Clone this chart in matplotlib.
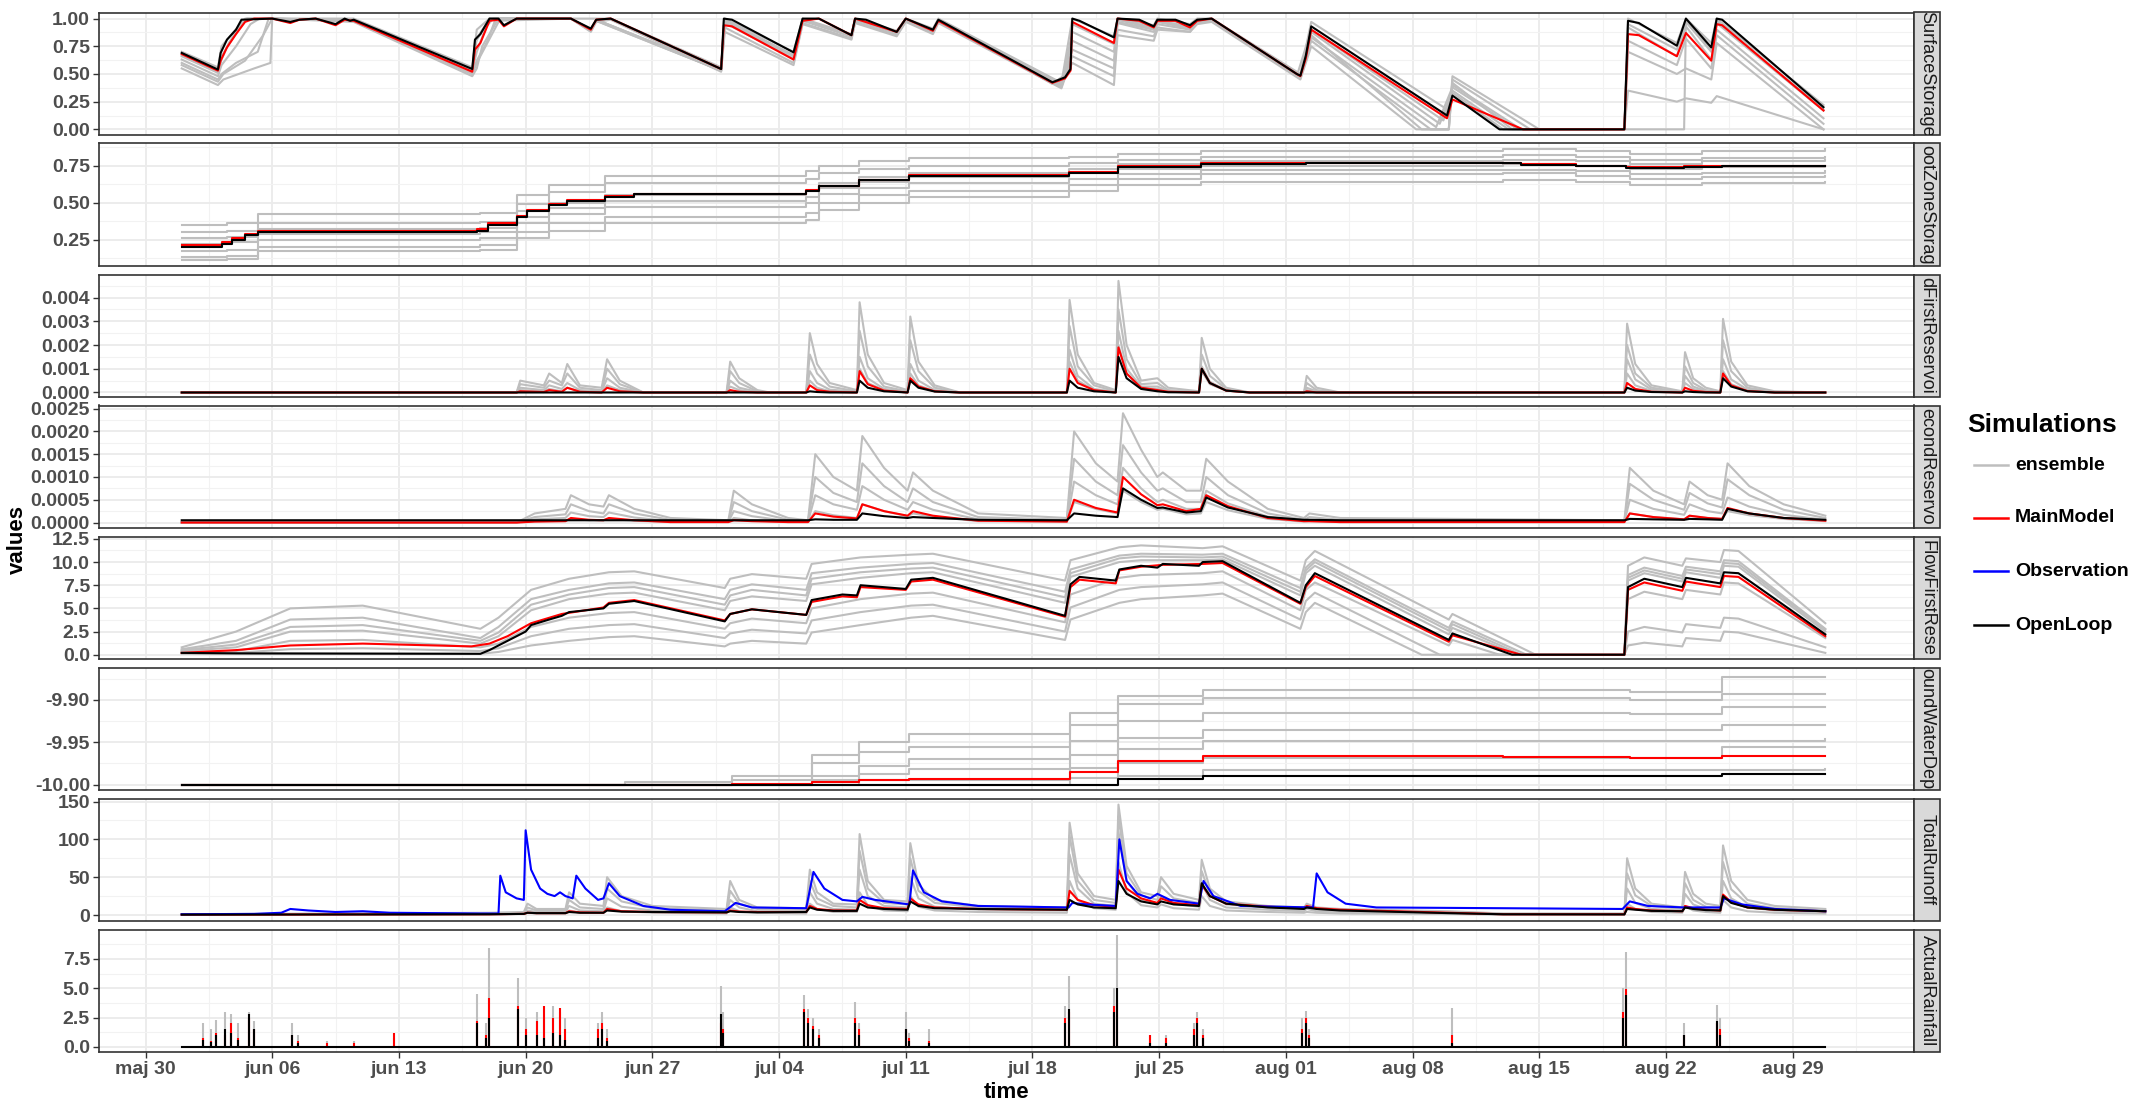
import numpy as np
import matplotlib
matplotlib.use("Agg")
import matplotlib.pyplot as plt
from matplotlib.patches import Rectangle
from matplotlib.lines import Line2D

# Arial-like font, bold text everywhere except the facet strips
plt.rcParams['font.family'] = ['Liberation Sans', 'DejaVu Sans']

W, H, DPI = 2132, 1104, 100

# ---------------- axes / labels ----------------
# time is counted in days after 30 May
week_days = [0, 7, 14, 21, 28, 35, 42, 49, 56, 63, 70, 77, 84, 91]
week_labels = ['maj 30', 'jun 06', 'jun 13', 'jun 20', 'jun 27', 'jul 04', 'jul 11',
               'jul 18', 'jul 25', 'aug 01', 'aug 08', 'aug 15', 'aug 22', 'aug 29']
x_range = (-2.57, 97.7)

# strip labels as far as they are visible in the (clipped) facet strips
panel_names = ['SurfaceStorage', 'ootZoneStorag', 'dFirstReservoi', 'econdReservo',
               'FlowFirstRese', 'oundWaterDep', 'TotalRunoff', 'ActualRainfall']
sim_names = ['ensemble', 'MainModel', 'Observation', 'OpenLoop']
sim_colors = ['#BEBEBE', '#FF0000', '#0000FF', '#000000']

panel_ylim = [(-0.051, 1.055), (0.071, 0.899), (-0.00019, 0.00497), (-0.00012, 0.00257),
              (-0.46, 12.76), (-10.0064, -9.8616), (-7.9, 154.0), (-0.43, 10.0)]
panel_yticks = [[0, 0.25, 0.5, 0.75, 1.0], [0.25, 0.5, 0.75], [0, 0.001, 0.002, 0.003, 0.004],
                [0, 0.0005, 0.001, 0.0015, 0.002, 0.0025], [0, 2.5, 5, 7.5, 10, 12.5],
                [-10.0, -9.95, -9.9], [0, 50, 100, 150], [0, 2.5, 5, 7.5]]
panel_ylabels = [['0.00', '0.25', '0.50', '0.75', '1.00'], ['0.25', '0.50', '0.75'],
                 ['0.000', '0.001', '0.002', '0.003', '0.004'],
                 ['0.0000', '0.0005', '0.0010', '0.0015', '0.0020', '0.0025'],
                 ['0.0', '2.5', '5.0', '7.5', '10.0', '12.5'], ['-10.00', '-9.95', '-9.90'],
                 ['0', '50', '100', '150'], ['0.0', '2.5', '5.0', '7.5']]

# ---------------- SurfaceStorage (day, value) ----------------
surf_openloop = [
    (2.0, 0.69), (4.0, 0.54), (4.15, 0.69), (4.5, 0.81), (5.0, 0.90), (5.3, 0.99), (7.0, 1.0),
    (8.0, 0.97), (8.5, 0.99), (9.4, 1.0), (10.5, 0.95), (11.0, 1.0), (11.3, 0.98), (11.5, 0.99),
    (18.05, 0.545), (18.2, 0.81), (18.5, 0.86), (19.0, 1.0), (19.5, 1.0), (19.8, 0.94), (20.5, 1.0),
    (23.5, 1.0), (24.6, 0.91), (24.9, 0.99), (25.7, 1.0), (31.8, 0.545), (31.95, 1.0), (32.4, 0.99),
    (35.8, 0.695), (36.3, 1.0), (37.2, 1.0), (39.0, 0.85), (39.2, 1.0), (39.8, 0.99), (41.5, 0.88),
    (42.0, 1.0), (43.5, 0.90), (43.8, 0.99), (50.1, 0.425), (50.8, 0.47), (51.1, 0.545), (51.2, 1.0),
    (51.6, 0.98), (53.5, 0.83), (53.7, 1.0), (54.9, 0.99), (55.7, 0.93), (55.9, 0.99), (56.9, 0.99),
    (57.7, 0.94), (58.1, 0.99), (58.9, 1.0), (63.6, 0.50), (63.8, 0.485), (64.1, 0.665), (64.4, 0.93),
    (71.9, 0.125), (72.2, 0.305), (74.8, 0.0), (81.7, 0.0), (81.9, 0.98), (82.5, 0.96), (84.6, 0.755),
    (85.1, 1.0), (86.5, 0.74), (86.8, 1.0), (87.1, 0.99), (92.7, 0.2)]
surf_main = [
    (2.0, 0.68), (4.0, 0.53), (4.15, 0.62), (4.5, 0.74), (5.0, 0.86), (5.5, 0.97), (6.0, 1.0),
    (7.0, 1.0), (8.0, 0.96), (8.5, 0.99), (9.4, 1.0), (10.5, 0.94), (11.0, 0.99), (11.5, 0.98),
    (18.05, 0.52), (18.2, 0.72), (18.5, 0.78), (19.0, 0.98), (19.5, 0.99), (19.8, 0.93), (20.5, 1.0),
    (23.5, 1.0), (24.6, 0.90), (24.9, 0.99), (25.7, 1.0), (31.8, 0.545), (31.95, 0.94), (32.4, 0.93),
    (35.8, 0.63), (36.3, 0.98), (37.2, 1.0), (39.0, 0.85), (39.2, 1.0), (41.5, 0.88), (42.0, 1.0),
    (43.5, 0.89), (43.8, 0.98), (50.1, 0.42), (50.8, 0.46), (51.1, 0.53), (51.2, 0.97), (53.5, 0.78),
    (53.7, 1.0), (54.9, 0.98), (55.7, 0.92), (55.9, 0.98), (56.9, 0.98), (57.7, 0.92), (58.1, 0.98),
    (58.9, 1.0), (63.6, 0.50), (63.8, 0.48), (64.1, 0.64), (64.4, 0.90), (71.9, 0.10), (72.2, 0.27),
    (76.1, 0.0), (81.7, 0.0), (81.9, 0.86), (82.5, 0.85), (84.6, 0.66), (85.1, 0.87), (86.5, 0.62),
    (86.8, 0.95), (87.1, 0.94), (92.7, 0.17)]
surf_ens = [
    [(2.0, 0.70), (4.0, 0.56), (4.2, 0.75), (5.5, 1.0), (7.0, 1.0), (11.5, 1.0), (18.05, 0.56),
     (18.3, 0.9), (19.0, 1.0), (23.5, 1.0), (25.7, 1.0), (31.8, 0.56), (32.0, 1.0), (35.8, 0.70),
     (36.3, 1.0), (39.0, 0.86), (39.2, 1.0), (41.5, 0.89), (42.0, 1.0), (43.5, 0.91), (43.8, 1.0),
     (50.6, 0.42), (51.2, 1.0), (53.5, 0.84), (53.7, 1.0), (55.7, 0.94), (55.9, 1.0), (57.7, 0.95),
     (58.1, 1.0), (58.9, 1.0), (63.8, 0.50), (64.4, 0.97), (72.0, 0.17), (72.2, 0.42), (75.5, 0.0),
     (81.7, 0.0), (81.9, 1.0), (84.6, 0.78), (85.1, 1.0), (86.5, 0.78), (86.8, 1.0), (92.7, 0.22)],
    [(2.0, 0.60), (4.0, 0.45), (4.2, 0.50), (5.0, 0.60), (6.2, 0.70), (6.8, 1.0), (11.5, 0.98),
     (18.05, 0.50), (18.3, 0.62), (18.9, 0.80), (19.3, 0.98), (23.5, 1.0), (24.6, 0.88), (24.9, 0.97),
     (25.7, 0.99), (31.8, 0.52), (32.0, 0.92), (35.8, 0.60), (36.3, 0.96), (39.0, 0.82), (39.2, 0.97),
     (41.5, 0.85), (42.0, 0.98), (43.5, 0.87), (43.8, 0.97), (50.6, 0.38), (51.2, 0.72), (53.5, 0.55),
     (53.7, 0.96), (55.7, 0.88), (55.9, 0.95), (57.7, 0.90), (58.1, 0.96), (58.9, 0.99), (63.8, 0.46),
     (64.4, 0.80), (71.0, 0.0), (72.0, 0.0), (72.2, 0.45), (76.5, 0.0), (81.7, 0.0), (81.9, 0.70),
     (84.6, 0.50), (85.1, 0.55), (86.5, 0.45), (86.8, 0.78), (92.7, 0.0)],
    [(2.0, 0.55), (4.0, 0.40), (4.3, 0.45), (6.0, 0.55), (6.9, 0.60), (7.0, 1.0), (11.5, 0.97),
     (18.05, 0.48), (18.3, 0.55), (18.6, 0.75), (19.5, 1.0), (23.5, 1.0), (24.6, 0.89), (24.9, 0.98),
     (31.8, 0.53), (32.0, 0.96), (35.8, 0.64), (36.3, 0.98), (39.0, 0.84), (39.2, 0.99), (41.5, 0.87),
     (42.0, 0.99), (43.5, 0.89), (43.8, 0.99), (50.6, 0.40), (51.2, 0.60), (53.5, 0.40), (53.7, 0.85),
     (55.7, 0.80), (55.9, 0.90), (57.7, 0.88), (58.1, 0.97), (58.9, 0.98), (63.8, 0.47), (64.4, 0.85),
     (70.5, 0.0), (72.0, 0.0), (72.2, 0.40), (76.0, 0.0), (81.7, 0.0), (81.9, 0.35), (84.6, 0.25),
     (85.1, 0.28), (86.5, 0.24), (86.8, 0.30), (92.7, 0.0)],
    [(2.0, 0.63), (4.0, 0.48), (4.2, 0.58), (5.0, 0.75), (5.8, 0.95), (6.3, 1.0), (11.5, 0.99),
     (18.05, 0.53), (18.3, 0.70), (18.8, 0.92), (19.2, 1.0), (23.5, 1.0), (24.6, 0.90), (24.9, 0.99),
     (31.8, 0.54), (32.0, 0.97), (35.8, 0.66), (36.3, 0.99), (39.0, 0.85), (39.2, 0.99), (41.5, 0.87),
     (42.0, 0.99), (43.5, 0.89), (43.8, 0.98), (50.6, 0.40), (51.2, 0.80), (53.5, 0.62), (53.7, 0.97),
     (55.7, 0.90), (55.9, 0.97), (57.7, 0.91), (58.1, 0.97), (58.9, 0.99), (63.8, 0.48), (64.4, 0.83),
     (71.3, 0.02), (72.2, 0.38), (75.8, 0.0), (85.0, 0.0), (85.1, 0.98), (86.5, 0.72), (86.8, 0.96),
     (92.7, 0.17)],
    [(2.0, 0.66), (4.0, 0.51), (4.2, 0.66), (5.3, 0.95), (5.6, 1.0), (11.5, 0.99), (18.05, 0.53),
     (18.2, 0.78), (19.0, 0.99), (23.5, 1.0), (24.6, 0.90), (24.9, 0.99), (31.8, 0.54), (32.0, 0.99),
     (35.8, 0.67), (36.3, 0.99), (39.0, 0.84), (39.2, 0.99), (41.5, 0.87), (42.0, 0.99), (43.5, 0.88),
     (43.8, 0.98), (50.6, 0.40), (51.2, 0.88), (53.5, 0.70), (53.7, 0.99), (55.7, 0.91), (55.9, 0.98),
     (57.7, 0.92), (58.1, 0.98), (58.9, 0.99), (63.8, 0.49), (64.4, 0.88), (71.5, 0.05), (72.2, 0.35),
     (75.3, 0.0), (81.7, 0.0), (81.9, 0.92), (84.6, 0.66), (85.1, 0.93), (86.5, 0.63), (86.8, 0.90),
     (92.7, 0.10)],
    [(2.0, 0.67), (4.0, 0.52), (4.2, 0.63), (4.6, 0.78), (5.2, 0.93), (5.6, 1.0), (11.5, 0.99),
     (18.05, 0.52), (18.3, 0.82), (19.0, 1.0), (23.5, 1.0), (24.6, 0.90), (24.9, 0.99), (31.8, 0.53),
     (31.95, 0.98), (35.8, 0.67), (36.3, 0.99), (39.0, 0.84), (39.2, 0.99), (41.5, 0.87), (42.0, 0.99),
     (43.5, 0.89), (43.8, 0.99), (50.1, 0.41), (51.1, 0.53), (51.2, 0.95), (53.5, 0.77), (53.7, 0.99),
     (55.7, 0.92), (55.9, 0.98), (57.7, 0.93), (58.1, 0.98), (58.9, 0.99), (63.6, 0.48), (64.4, 0.90),
     (71.7, 0.08), (72.2, 0.33), (75.0, 0.0), (81.7, 0.0), (81.9, 0.95), (84.6, 0.72), (85.1, 0.97),
     (86.5, 0.70), (86.8, 0.98), (92.7, 0.18)],
    [(2.0, 0.58), (4.0, 0.43), (4.3, 0.50), (5.5, 0.62), (6.5, 0.85), (7.0, 1.0), (11.5, 0.98),
     (18.05, 0.50), (18.3, 0.60), (19.6, 1.0), (23.5, 1.0), (24.6, 0.89), (24.9, 0.98), (31.8, 0.53),
     (32.0, 0.88), (35.8, 0.58), (36.3, 0.95), (39.0, 0.81), (39.2, 0.96), (41.5, 0.84), (42.0, 0.97),
     (43.5, 0.86), (43.8, 0.96), (50.6, 0.37), (51.2, 0.66), (53.5, 0.48), (53.7, 0.90), (55.7, 0.84),
     (55.9, 0.92), (57.7, 0.88), (58.1, 0.95), (58.9, 0.97), (63.8, 0.45), (64.4, 0.75), (70.2, 0.0),
     (72.0, 0.0), (72.2, 0.48), (77.0, 0.0), (81.7, 0.0), (81.9, 0.80), (84.6, 0.58), (85.1, 0.82),
     (86.5, 0.55), (86.8, 0.85), (92.7, 0.05)],
]

# ---------------- RootZoneStorage (steps) ----------------
root_openloop = [
    (2.0, 0.20), (4.2, 0.22), (4.8, 0.25), (5.5, 0.28), (6.2, 0.30), (18.3, 0.31), (18.9, 0.35),
    (20.5, 0.40), (21.1, 0.44), (22.3, 0.48), (23.3, 0.51), (25.4, 0.54), (27.0, 0.555), (36.5, 0.58),
    (37.2, 0.61), (39.4, 0.65), (42.2, 0.68), (51.0, 0.70), (53.7, 0.74), (58.3, 0.76), (64.1, 0.765),
    (76.0, 0.755), (79.0, 0.745), (81.8, 0.735), (85.0, 0.74), (87.1, 0.745), (92.8, 0.745)]
root_main = [
    (2.0, 0.215), (4.2, 0.235), (4.8, 0.26), (5.5, 0.29), (6.2, 0.31), (18.3, 0.32), (18.9, 0.36),
    (20.5, 0.41), (21.1, 0.45), (22.3, 0.49), (23.3, 0.52), (25.4, 0.545), (27.0, 0.56), (36.5, 0.585),
    (37.2, 0.615), (39.4, 0.655), (42.2, 0.685), (51.0, 0.705), (53.7, 0.745), (58.3, 0.765),
    (64.1, 0.77), (76.0, 0.76), (79.0, 0.75), (81.8, 0.74), (85.0, 0.745), (87.1, 0.75), (92.8, 0.75)]
root_ens_t = [2.0, 4.5, 6.2, 18.5, 20.5, 22.3, 25.4, 36.5, 37.2, 39.4, 42.2, 51.0, 53.7, 58.3,
              75.0, 79.0, 82.0, 86.0, 92.8]
root_ens = [
    [0.35, 0.36, 0.42, 0.43, 0.55, 0.62, 0.68, 0.71, 0.75, 0.78, 0.80, 0.81, 0.83, 0.85, 0.86, 0.85, 0.83, 0.85, 0.86],
    [0.30, 0.31, 0.36, 0.37, 0.49, 0.57, 0.63, 0.66, 0.70, 0.73, 0.75, 0.77, 0.79, 0.81, 0.82, 0.81, 0.79, 0.80, 0.81],
    [0.26, 0.27, 0.32, 0.33, 0.44, 0.50, 0.55, 0.58, 0.63, 0.67, 0.70, 0.73, 0.76, 0.78, 0.79, 0.78, 0.76, 0.78, 0.785],
    [0.22, 0.23, 0.29, 0.30, 0.40, 0.46, 0.51, 0.54, 0.60, 0.64, 0.67, 0.70, 0.73, 0.75, 0.76, 0.75, 0.73, 0.74, 0.75],
    [0.17, 0.18, 0.25, 0.26, 0.36, 0.42, 0.47, 0.50, 0.56, 0.60, 0.63, 0.66, 0.69, 0.72, 0.72, 0.71, 0.69, 0.70, 0.71],
    [0.13, 0.14, 0.20, 0.21, 0.30, 0.36, 0.40, 0.43, 0.50, 0.55, 0.58, 0.62, 0.66, 0.69, 0.70, 0.68, 0.66, 0.67, 0.68],
    [0.11, 0.12, 0.17, 0.18, 0.26, 0.31, 0.36, 0.38, 0.45, 0.50, 0.54, 0.58, 0.62, 0.64, 0.65, 0.64, 0.62, 0.63, 0.64],
]

# ---------------- first reservoir (values in 1e-3) ----------------
res1_t = [2.0, 20.5, 20.7, 22.0, 22.3, 23.0, 23.3, 24.0, 25.2, 25.5, 26.2, 27.5,
          32.1, 32.3, 32.8, 33.8, 34.5,
          36.5, 36.7, 37.1, 37.8,
          39.3, 39.45, 39.9, 40.8,
          42.1, 42.25, 42.7, 43.6, 45.0,
          50.9, 51.05, 51.5, 52.4,
          53.6, 53.75, 54.2, 55.0,
          55.9, 56.5,
          58.2, 58.35, 58.8, 59.7, 61.0,
          64.0, 64.15, 64.7, 66.0,
          81.7, 81.85, 82.3, 83.2,
          84.9, 85.05, 85.5, 86.2,
          87.0, 87.15, 87.6, 88.5, 90.0, 92.8]
res1_openloop = [0, 0, 0, 0, 0, 0, 0, 0, 0, 0, 0, 0,
                 0, 0, 0, 0, 0,
                 0, 0.05, 0.02, 0,
                 0, 0.5, 0.2, 0.05,
                 0, 0.5, 0.2, 0.04, 0,
                 0, 0.5, 0.2, 0.05,
                 0, 1.5, 0.6, 0.15,
                 0.05, 0.01,
                 0, 1.0, 0.4, 0.08, 0,
                 0, 0, 0, 0,
                 0, 0.2, 0.08, 0.02,
                 0, 0.05, 0.02, 0,
                 0, 0.6, 0.25, 0.05, 0, 0]
res1_main = [0, 0, 0.05, 0.02, 0.1, 0.03, 0.2, 0.03, 0, 0.2, 0.05, 0,
             0, 0.1, 0.03, 0, 0,
             0, 0.3, 0.1, 0.03,
             0, 0.9, 0.35, 0.08,
             0, 0.6, 0.25, 0.05, 0,
             0, 1.0, 0.4, 0.1,
             0, 1.9, 0.8, 0.2,
             0.1, 0.03,
             0, 1.0, 0.4, 0.08, 0,
             0, 0.05, 0, 0,
             0, 0.4, 0.15, 0.03,
             0, 0.2, 0.07, 0.02,
             0, 0.8, 0.3, 0.06, 0, 0]
res1_ens = [
    [0, 0, 0.5, 0.3, 0.8, 0.4, 1.2, 0.3, 0.2, 1.4, 0.5, 0,
     0, 1.3, 0.6, 0.1, 0,
     0, 2.5, 1.2, 0.4,
     0.1, 3.8, 1.6, 0.4,
     0.1, 3.2, 1.3, 0.3, 0,
     0, 3.9, 1.6, 0.4,
     0.1, 4.7, 2.0, 0.5,
     0.6, 0.2,
     0.05, 2.3, 1.0, 0.2, 0,
     0, 0.7, 0.2, 0,
     0, 2.9, 1.2, 0.3,
     0.05, 1.7, 0.6, 0.2,
     0.05, 3.1, 1.3, 0.3, 0.05, 0],
    [0, 0, 0.35, 0.2, 0.5, 0.3, 0.8, 0.2, 0.1, 1.0, 0.35, 0,
     0, 0.9, 0.4, 0.05, 0,
     0, 1.6, 0.8, 0.25,
     0.05, 2.6, 1.1, 0.25,
     0.05, 2.2, 0.9, 0.2, 0,
     0, 2.8, 1.1, 0.3,
     0.05, 3.5, 1.4, 0.35,
     0.4, 0.1,
     0.03, 1.6, 0.7, 0.15, 0,
     0, 0.4, 0.1, 0,
     0, 2.0, 0.8, 0.2,
     0.03, 1.1, 0.4, 0.1,
     0.03, 2.2, 0.9, 0.2, 0.03, 0],
    [0, 0, 0.2, 0.1, 0.3, 0.15, 0.4, 0.1, 0.05, 0.6, 0.2, 0,
     0, 0.5, 0.2, 0.03, 0,
     0, 0.9, 0.4, 0.12,
     0.03, 1.5, 0.6, 0.15,
     0.03, 1.2, 0.5, 0.1, 0,
     0, 1.8, 0.7, 0.15,
     0.03, 2.6, 1.0, 0.25,
     0.25, 0.06,
     0.02, 1.1, 0.45, 0.1, 0,
     0, 0.2, 0.05, 0,
     0, 1.4, 0.55, 0.12,
     0.02, 0.7, 0.25, 0.06,
     0.02, 1.4, 0.55, 0.12, 0.02, 0],
    [0, 0, 0.1, 0.05, 0.15, 0.05, 0.2, 0.05, 0, 0.3, 0.1, 0,
     0, 0.25, 0.1, 0, 0,
     0, 0.5, 0.2, 0.05,
     0, 1.0, 0.4, 0.1,
     0, 0.8, 0.3, 0.05, 0,
     0, 1.3, 0.5, 0.1,
     0, 2.0, 0.8, 0.2,
     0.15, 0.03,
     0, 0.9, 0.35, 0.08, 0,
     0, 0.1, 0.02, 0,
     0, 0.8, 0.3, 0.07,
     0, 0.4, 0.15, 0.03,
     0, 0.9, 0.35, 0.08, 0, 0],
]

# ---------------- second reservoir (values in 1e-3) ----------------
res2_t = [2.0, 20.5, 21.5, 23.2, 23.5, 24.5, 25.3, 25.6, 27.0, 29.0,
          32.2, 32.5, 33.5, 35.5,
          36.6, 37.0, 38.0,
          39.3, 39.6, 40.8,
          42.1, 42.4, 43.5, 46.0,
          50.9, 51.3, 52.5,
          53.7, 54.0, 55.0,
          55.9, 56.2, 57.5,
          58.3, 58.6, 59.8, 62.0,
          64.0, 64.3, 66.0,
          81.7, 82.0, 83.3,
          85.0, 85.3, 86.3,
          87.1, 87.4, 88.6, 90.5, 92.8]
res2_openloop = [0.05, 0.05, 0.05, 0.05, 0.05, 0.05, 0.05, 0.05, 0.05, 0.05,
                 0.05, 0.05, 0.05, 0.05,
                 0.05, 0.07, 0.06,
                 0.06, 0.2, 0.14,
                 0.1, 0.12, 0.1, 0.06,
                 0.05, 0.2, 0.15,
                 0.12, 0.75, 0.5,
                 0.32, 0.33, 0.22,
                 0.25, 0.55, 0.33, 0.12,
                 0.06, 0.06, 0.05,
                 0.05, 0.08, 0.07,
                 0.06, 0.08, 0.07,
                 0.06, 0.3, 0.2, 0.1, 0.06]
res2_main = [0, 0, 0.02, 0.03, 0.1, 0.06, 0.05, 0.1, 0.05, 0.01,
             0.01, 0.05, 0.03, 0.01,
             0.01, 0.2, 0.13,
             0.09, 0.4, 0.25,
             0.15, 0.25, 0.15, 0.04,
             0.02, 0.5, 0.32,
             0.22, 1.0, 0.62,
             0.38, 0.4, 0.25,
             0.3, 0.6, 0.36, 0.1,
             0.03, 0.03, 0.01,
             0.01, 0.2, 0.12,
             0.07, 0.15, 0.1,
             0.08, 0.32, 0.2, 0.1, 0.04]
res2_ens = [
    [0, 0, 0.2, 0.3, 0.6, 0.4, 0.35, 0.6, 0.3, 0.1,
     0.05, 0.7, 0.4, 0.1,
     0.05, 1.5, 1.0,
     0.7, 1.9, 1.2,
     0.7, 1.1, 0.7, 0.2,
     0.1, 2.0, 1.3,
     0.9, 2.4, 1.6,
     1.0, 1.1, 0.7,
     0.7, 1.4, 0.9, 0.3,
     0.1, 0.2, 0.1,
     0.05, 1.2, 0.7,
     0.4, 0.9, 0.6,
     0.5, 1.3, 0.8, 0.4, 0.15],
    [0, 0, 0.12, 0.18, 0.4, 0.25, 0.2, 0.4, 0.2, 0.06,
     0.03, 0.45, 0.25, 0.06,
     0.03, 1.0, 0.65,
     0.45, 1.3, 0.8,
     0.45, 0.75, 0.45, 0.12,
     0.06, 1.4, 0.9,
     0.6, 1.7, 1.1,
     0.7, 0.75, 0.45,
     0.45, 1.0, 0.6, 0.2,
     0.06, 0.12, 0.06,
     0.03, 0.85, 0.5,
     0.28, 0.65, 0.42,
     0.33, 0.95, 0.6, 0.28, 0.1],
    [0, 0, 0.07, 0.1, 0.22, 0.14, 0.12, 0.22, 0.11, 0.03,
     0.02, 0.25, 0.14, 0.03,
     0.02, 0.6, 0.4,
     0.28, 0.8, 0.5,
     0.28, 0.45, 0.28, 0.07,
     0.03, 0.9, 0.6,
     0.4, 1.2, 0.75,
     0.45, 0.5, 0.3,
     0.3, 0.7, 0.42, 0.13,
     0.04, 0.06, 0.03,
     0.02, 0.5, 0.3,
     0.17, 0.4, 0.25,
     0.2, 0.55, 0.35, 0.17, 0.06],
    [0, 0, 0.03, 0.04, 0.08, 0.05, 0.05, 0.08, 0.04, 0.01,
     0.01, 0.1, 0.05, 0.01,
     0.01, 0.25, 0.16,
     0.1, 0.4, 0.25,
     0.14, 0.2, 0.13, 0.03,
     0.02, 0.45, 0.3,
     0.2, 0.7, 0.45,
     0.28, 0.3, 0.18,
     0.2, 0.45, 0.27, 0.08,
     0.02, 0.03, 0.01,
     0.01, 0.2, 0.12,
     0.07, 0.15, 0.1,
     0.08, 0.25, 0.16, 0.08, 0.03],
]

# ---------------- flow first reservoir ----------------
flow_openloop = [
    (2.0, 0.2), (5.0, 0.15), (18.5, 0.1), (19.0, 0.5), (20.0, 1.5), (21.0, 2.5), (21.3, 3.2),
    (22.3, 3.8), (23.0, 4.2), (23.4, 4.6), (25.3, 5.0), (25.6, 5.5), (27.0, 5.8), (32.0, 3.6),
    (32.3, 4.4), (33.5, 4.9), (36.5, 4.3), (36.8, 5.9), (38.5, 6.5), (39.3, 6.4), (39.5, 7.5),
    (42.0, 7.1), (42.3, 8.1), (43.5, 8.3), (50.8, 4.2), (51.1, 7.6), (51.6, 8.4), (53.6, 8.0),
    (53.8, 9.2), (55.0, 9.6), (55.9, 9.4), (56.2, 9.8), (58.2, 9.6), (58.4, 10.0), (59.5, 10.1),
    (63.8, 5.6), (64.1, 7.5), (64.6, 8.8), (72.0, 1.6), (72.2, 2.3), (75.5, 0.0), (81.7, 0.0),
    (81.9, 7.3), (82.8, 8.2), (84.9, 7.3), (85.1, 8.3), (87.0, 7.7), (87.2, 8.9), (88.0, 8.8),
    (92.8, 2.2)]
flow_main = [
    (2.0, 0.2), (5.0, 0.5), (8.0, 1.0), (12.0, 1.2), (18.0, 0.9), (19.0, 1.2), (20.0, 2.0),
    (21.3, 3.4), (23.0, 4.4), (25.3, 5.1), (25.6, 5.6), (27.0, 5.9), (32.0, 3.7), (32.3, 4.4),
    (33.5, 4.9), (36.5, 4.3), (36.8, 5.7), (38.5, 6.3), (39.3, 6.2), (39.5, 7.3), (42.0, 7.0),
    (42.3, 7.9), (43.5, 8.1), (50.8, 4.1), (51.1, 7.3), (51.6, 8.1), (53.6, 7.7), (53.8, 9.1),
    (55.0, 9.5), (56.2, 9.7), (58.4, 9.8), (59.5, 9.9), (63.8, 5.5), (64.1, 7.3), (64.6, 8.5),
    (72.0, 1.4), (72.2, 2.1), (76.0, 0.0), (81.7, 0.0), (81.9, 7.0), (82.8, 7.8), (84.9, 6.9),
    (85.1, 7.9), (87.0, 7.3), (87.2, 8.5), (88.0, 8.4), (92.8, 2.0)]
flow_ens = [
    [(2.0, 0.8), (5.0, 2.5), (8.0, 5.0), (12.0, 5.3), (18.5, 2.8), (19.5, 4.0), (21.3, 7.0),
     (23.4, 8.2), (25.6, 8.9), (27.0, 9.0), (32.0, 7.2), (32.3, 8.2), (33.5, 8.7), (36.5, 8.2),
     (36.8, 9.8), (39.5, 10.5), (42.3, 10.8), (43.5, 10.9), (50.8, 8.0), (51.1, 10.2), (53.8, 11.6),
     (55.0, 11.8), (58.4, 11.5), (59.5, 11.7), (63.8, 8.0), (64.1, 10.2), (64.6, 11.2), (72.0, 3.8),
     (72.2, 4.4), (76.8, 0.0), (81.7, 0.0), (81.9, 9.6), (82.8, 10.5), (84.9, 9.6), (85.1, 10.4),
     (87.0, 10.0), (87.2, 11.3), (88.0, 11.2), (92.8, 3.4)],
    [(2.0, 0.6), (5.0, 1.5), (8.0, 3.8), (12.0, 4.0), (18.5, 1.8), (19.5, 3.0), (21.3, 6.0),
     (23.4, 7.0), (25.6, 7.7), (27.0, 7.8), (32.0, 6.0), (32.3, 7.0), (33.5, 7.6), (36.5, 7.0),
     (36.8, 8.8), (39.5, 9.4), (42.3, 9.8), (43.5, 9.9), (50.8, 6.8), (51.1, 9.2), (53.8, 10.7),
     (55.0, 10.9), (58.4, 10.8), (59.5, 10.9), (63.8, 7.2), (64.1, 9.4), (64.6, 10.3), (72.0, 2.9),
     (72.2, 3.6), (76.3, 0.0), (81.7, 0.0), (81.9, 8.6), (82.8, 9.4), (84.9, 8.5), (85.1, 9.5),
     (87.0, 9.0), (87.2, 10.2), (88.0, 10.1), (92.8, 2.8)],
    [(2.0, 0.5), (5.0, 1.1), (8.0, 3.0), (12.0, 3.2), (18.5, 1.5), (19.5, 2.4), (21.3, 5.4),
     (23.4, 6.5), (25.6, 7.2), (27.0, 7.3), (32.0, 5.4), (32.3, 6.4), (33.5, 7.0), (36.5, 6.4),
     (36.8, 8.2), (39.5, 8.9), (42.3, 9.3), (43.5, 9.4), (50.8, 6.2), (51.1, 8.8), (53.8, 10.4),
     (55.0, 10.6), (58.4, 10.5), (59.5, 10.6), (63.8, 6.8), (64.1, 9.1), (64.6, 10.0), (72.0, 2.6),
     (72.2, 3.3), (76.0, 0.0), (81.7, 0.0), (81.9, 8.3), (82.8, 9.1), (84.9, 8.2), (85.1, 9.2),
     (87.0, 8.7), (87.2, 9.9), (88.0, 9.8), (92.8, 2.7)],
    [(2.0, 0.4), (5.0, 0.8), (8.0, 2.5), (12.0, 2.6), (18.5, 1.2), (19.5, 2.0), (21.3, 4.8),
     (23.4, 6.0), (25.6, 6.6), (27.0, 6.7), (32.0, 4.8), (32.3, 5.8), (33.5, 6.3), (36.5, 5.8),
     (36.8, 7.6), (39.5, 8.3), (42.3, 8.8), (43.5, 8.9), (50.8, 5.6), (51.1, 8.4), (53.8, 10.0),
     (55.0, 10.2), (58.4, 10.2), (59.5, 10.3), (63.8, 6.4), (64.1, 8.8), (64.6, 9.6), (72.0, 2.2),
     (72.2, 2.9), (75.8, 0.0), (81.7, 0.0), (81.9, 8.0), (82.8, 8.8), (84.9, 7.9), (85.1, 8.9),
     (87.0, 8.3), (87.2, 9.6), (88.0, 9.5), (92.8, 2.5)],
    [(2.0, 0.3), (5.0, 0.4), (8.0, 1.5), (12.0, 1.6), (18.5, 0.8), (19.5, 1.2), (21.3, 3.0),
     (23.4, 4.0), (25.6, 4.5), (27.0, 4.6), (32.0, 2.8), (32.3, 3.4), (33.5, 3.9), (36.5, 3.4),
     (36.8, 5.0), (39.5, 6.0), (42.3, 6.6), (43.5, 6.7), (50.8, 3.5), (51.1, 6.5), (53.8, 8.3),
     (55.0, 8.6), (58.4, 8.8), (59.5, 9.0), (63.8, 4.8), (64.1, 7.0), (64.6, 7.8), (72.0, 1.0),
     (72.2, 1.6), (74.8, 0.0), (81.7, 0.0), (81.9, 6.0), (82.8, 6.8), (84.9, 6.0), (85.1, 7.0),
     (87.0, 6.5), (87.2, 7.8), (88.0, 7.7), (92.8, 1.8)],
    [(2.0, 0.2), (5.0, 0.2), (8.0, 0.6), (12.0, 0.7), (18.5, 0.4), (19.5, 0.7), (21.3, 2.0),
     (23.4, 2.8), (25.6, 3.2), (27.0, 3.3), (32.0, 1.8), (32.3, 2.3), (33.5, 2.7), (36.5, 2.3),
     (36.8, 3.7), (39.5, 4.6), (42.3, 5.3), (43.5, 5.4), (50.8, 2.5), (51.1, 5.1), (53.8, 7.0),
     (55.0, 7.3), (58.4, 7.6), (59.5, 7.8), (63.8, 3.8), (64.1, 5.8), (64.6, 6.7), (71.5, 0.0),
     (81.7, 0.0), (81.9, 2.5), (82.8, 3.0), (84.9, 2.4), (85.1, 3.3), (87.0, 2.9), (87.2, 4.0),
     (88.0, 3.9), (92.8, 0.8)],
    [(2.0, 0.1), (5.0, 0.1), (18.5, 0.1), (19.5, 0.3), (21.3, 1.0), (23.4, 1.5), (25.6, 1.9),
     (27.0, 2.0), (32.0, 0.9), (32.3, 1.2), (33.5, 1.5), (36.5, 1.2), (36.8, 2.4), (39.5, 3.2),
     (42.3, 4.0), (43.5, 4.2), (50.8, 1.6), (51.1, 3.8), (53.8, 5.6), (55.0, 6.0), (58.4, 6.4),
     (59.5, 6.6), (63.8, 2.8), (64.1, 4.6), (64.6, 5.6), (70.5, 0.0), (81.7, 0.0), (81.9, 1.0),
     (82.8, 1.3), (84.9, 0.9), (85.1, 1.8), (87.0, 1.5), (87.2, 2.5), (88.0, 2.4), (92.8, 0.2)],
]

# ---------------- ground water depth (steps) ----------------
gw_openloop = [(2.0, -10.0), (53.7, -9.993), (58.4, -9.990), (87.1, -9.988), (92.8, -9.988)]
gw_main = [(2.0, -10.0), (32.4, -9.999), (36.8, -9.997), (39.4, -9.995), (42.2, -9.993),
           (51.1, -9.985), (53.7, -9.972), (58.4, -9.966), (75.0, -9.967), (82.0, -9.968),
           (87.1, -9.966), (92.8, -9.966)]
gw_ens = [
    [(2.0, -10.0), (26.5, -9.997), (32.4, -9.99), (36.8, -9.965), (39.4, -9.95), (42.2, -9.94),
     (51.1, -9.915), (53.7, -9.895), (58.4, -9.888), (82.0, -9.89), (87.1, -9.873), (92.8, -9.873)],
    [(2.0, -10.0), (32.4, -9.995), (36.8, -9.975), (39.4, -9.962), (42.2, -9.955), (51.1, -9.93),
     (53.7, -9.905), (58.4, -9.898), (82.0, -9.9), (87.1, -9.893), (92.8, -9.893)],
    [(2.0, -10.0), (36.8, -9.99), (39.4, -9.978), (42.2, -9.97), (51.1, -9.948), (53.7, -9.925),
     (58.4, -9.915), (82.0, -9.917), (87.1, -9.908), (92.8, -9.908)],
    [(2.0, -10.0), (36.8, -9.995), (39.4, -9.987), (42.2, -9.982), (51.1, -9.965), (53.7, -9.945),
     (58.4, -9.935), (87.1, -9.93), (92.8, -9.93)],
    [(2.0, -10.0), (39.4, -9.995), (51.1, -9.98), (53.7, -9.958), (58.4, -9.948), (92.8, -9.946)],
    [(2.0, -10.0), (51.1, -9.992), (53.7, -9.975), (58.4, -9.968), (87.1, -9.955), (92.8, -9.955)],
    [(2.0, -10.0), (53.7, -9.99), (58.4, -9.983), (92.8, -9.981)],
]

# ---------------- total runoff ----------------
runoff_t = [2.0, 19.0, 20.9, 21.1, 21.6, 23.2, 23.4, 24.0, 25.3, 25.5,
            26.3, 28.0, 32.1, 32.3, 32.8, 33.8, 36.5, 36.7, 37.1, 38.0,
            39.3, 39.45, 39.9, 40.8, 42.1, 42.25, 42.7, 43.6, 46.0, 50.9,
            51.05, 51.5, 52.4, 53.6, 53.75, 54.2, 55.0, 55.9, 56.1, 56.8,
            58.2, 58.35, 58.8, 59.7, 62.0, 64.0, 64.15, 64.7, 66.0, 72.0,
            75.0, 81.7, 81.85, 82.3, 83.2, 84.9, 85.05, 85.5, 86.2, 87.0,
            87.15, 87.6, 88.5, 90.0, 92.8]
runoff_openloop = [0.5, 1, 1.5, 3, 2.5, 2.5, 4, 3, 3, 6,
                   4.5, 4, 3.5, 5, 4, 3.5, 4, 10, 7, 5.5,
                   5.5, 15, 10, 8, 7, 18, 12, 9, 8, 7,
                   20, 14, 10, 9, 45, 28, 18, 14, 18, 14,
                   12, 42, 25, 15, 10, 8, 10, 8, 6, 2.5,
                   1, 0.8, 8, 7, 5.5, 5, 10, 8, 6.5, 6,
                   25, 16, 10, 7, 5]
runoff_main = [0.5, 1, 1.5, 3, 2.5, 2.5, 5, 3.5, 3, 8,
               5, 4, 3.5, 6, 4.5, 4, 4, 12, 8, 6,
               6, 20, 13, 9, 8, 22, 14, 10, 8, 7,
               32, 20, 13, 11, 60, 35, 22, 16, 22, 16,
               13, 40, 25, 15, 11, 9, 12, 9, 7, 3,
               1, 1, 10, 8, 6, 5, 12, 9, 7, 6,
               27, 17, 10, 7, 5]
runoff_ens = [
    [1, 3, 4, 15, 8, 8, 30, 15, 12, 50,
     25, 12, 8, 45, 20, 10, 9, 60, 30, 15,
     14, 107, 45, 20, 18, 95, 40, 20, 12, 10,
     122, 55, 25, 20, 146, 65, 30, 25, 50, 28,
     20, 73, 35, 18, 12, 10, 15, 10, 8, 5,
     2, 2, 75, 35, 15, 10, 57, 28, 15, 12,
     92, 45, 20, 12, 8],
    [1, 2, 3, 10, 6, 6, 20, 10, 8, 35,
     18, 9, 6, 32, 15, 8, 7, 45, 22, 12,
     10, 85, 35, 16, 14, 75, 32, 16, 10, 8,
     105, 45, 20, 16, 130, 55, 26, 20, 38, 22,
     16, 58, 28, 14, 10, 8, 12, 8, 6, 4,
     1.5, 1.5, 55, 26, 12, 8, 42, 20, 11, 9,
     70, 34, 15, 9, 6],
    [0.5, 1.5, 2, 6, 4, 4, 12, 6, 5, 22,
     11, 6, 4, 20, 10, 5, 5, 30, 15, 8,
     7, 60, 25, 12, 10, 50, 22, 11, 7, 6,
     80, 35, 15, 12, 110, 45, 20, 15, 25, 15,
     11, 42, 20, 10, 7, 5, 8, 5, 4, 3,
     1, 1, 35, 16, 8, 6, 28, 14, 8, 6,
     45, 22, 10, 6, 4],
    [0.3, 1, 1.5, 3, 2, 2, 6, 3, 3, 10,
     5, 3, 2, 10, 5, 3, 2, 15, 8, 4,
     4, 30, 13, 6, 5, 25, 11, 6, 4, 3,
     45, 20, 9, 7, 70, 30, 13, 10, 14, 9,
     7, 25, 12, 6, 4, 3, 4, 3, 2, 1.5,
     0.5, 0.5, 15, 8, 4, 3, 12, 6, 4, 3,
     20, 10, 5, 3, 2],
]
runoff_obs = [
    (2.0, 1), (6.0, 1.5), (7.5, 3), (8.0, 8), (9.0, 6), (10.5, 4), (12.0, 5), (13.5, 3), (18.5, 2),
    (19.5, 2), (19.6, 52), (19.9, 30), (20.5, 22), (20.9, 20), (21.0, 112), (21.3, 60), (21.8, 35),
    (22.2, 28), (22.6, 25), (22.9, 30), (23.2, 25), (23.6, 22), (23.8, 52), (24.3, 35), (25.0, 20),
    (25.3, 22), (25.6, 42), (26.2, 25), (27.5, 12), (29.0, 7), (32.0, 5), (32.6, 16), (33.5, 10),
    (36.5, 9), (36.9, 57), (37.5, 35), (38.5, 20), (39.3, 18), (39.6, 24), (40.3, 20), (42.2, 14),
    (42.4, 59), (43.0, 30), (44.0, 18), (46.0, 12), (51.0, 10), (51.2, 16), (52.0, 14), (53.6, 12),
    (53.8, 100), (54.2, 45), (54.8, 28), (55.5, 22), (55.9, 28), (56.6, 20), (58.2, 15), (58.45, 45),
    (59.0, 25), (60.5, 12), (64.5, 10), (64.7, 55), (65.3, 30), (66.3, 15), (68.0, 10), (75.0, 9),
    (81.6, 8), (82.0, 18), (83.0, 12), (85.0, 10), (87.0, 10), (87.2, 22), (88.2, 14), (90.0, 8),
    (92.8, 5)]

# ---------------- actual rainfall ----------------
rain_span = (2.0, 92.8)
rain_t = [3.2, 3.6, 3.9, 4.4, 4.7, 5.1, 5.7, 6.0,
          8.1, 8.4, 10.0, 11.5, 13.7,
          18.3, 18.8, 19.0,
          20.6, 21.0, 21.6, 22.0, 22.5, 22.9, 23.2,
          25.0, 25.2, 25.5,
          31.8, 31.9,
          36.4, 36.6, 36.9, 37.2,
          39.2, 39.4,
          42.0, 42.2, 43.3,
          50.8, 51.0,
          53.5, 53.65,
          55.5, 56.4,
          57.9, 58.1, 58.4,
          63.9, 64.1, 64.3,
          72.2,
          81.6, 81.8,
          85.0,
          86.8, 87.0]
rain_ens = [2.0, 1.5, 2.3, 3.0, 2.8, 2.0, 3.0, 2.2,
            2.0, 1.0, 0.5, 0.5, 0.8,
            4.5, 2.0, 8.4,
            5.9, 2.5, 3.0, 2.5, 3.5, 3.0, 2.5,
            2.0, 3.0, 1.5,
            5.2, 3.0,
            4.4, 3.2, 2.5, 1.5,
            3.8, 2.0,
            3.0, 1.2, 1.5,
            3.5, 6.0,
            5.0, 9.5,
            1.0, 1.0,
            2.0, 3.0, 1.5,
            2.5, 3.1, 1.5,
            3.3,
            5.0, 8.1,
            2.0,
            3.6, 2.5]
rain_main = [0.8, 0.5, 1.2, 1.0, 2.0, 0.8, 2.5, 1.5,
             1.0, 0.5, 0.3, 0.3, 1.2,
             2.2, 1.0, 4.2,
             3.5, 1.5, 2.2, 3.5, 2.5, 3.3, 1.5,
             1.5, 2.0, 0.8,
             2.0, 1.5,
             3.2, 2.5, 1.8, 1.0,
             2.5, 1.5,
             1.5, 0.8, 0.5,
             2.5, 3.0,
             3.5, 4.0,
             1.0, 0.8,
             1.5, 2.5, 1.0,
             1.5, 2.5, 1.0,
             1.0,
             3.0, 4.9,
             1.0,
             2.0, 1.5]
rain_openloop = [0.6, 0.4, 1.0, 1.5, 1.2, 0.6, 2.8, 1.5,
                 1.0, 0.3, 0.1, 0.1, 0.1,
                 2.0, 0.8, 2.5,
                 3.2, 1.0, 1.0, 0.8, 1.2, 1.0, 0.6,
                 0.8, 1.5, 0.5,
                 2.8, 1.2,
                 3.0, 2.0, 1.5, 0.8,
                 2.0, 1.0,
                 1.5, 0.5, 0.3,
                 2.0, 3.2,
                 3.0, 5.0,
                 0.3, 0.3,
                 1.0, 2.0, 0.8,
                 1.2, 2.0, 0.8,
                 0.3,
                 2.5, 4.4,
                 1.0,
                 2.2, 1.0]

# ---------------- drawing ----------------
GREY, RED, BLUE, BLACK = sim_colors
LW = 1.5
TICK_GREY = '#4D4D4D'
FRAME = '#333333'
TICK_SIZE = 14

panel_left, panel_right, strip_w = 99, 1914, 26
panel_h = 122.5
panel_tops = [12.5 + 131 * i for i in range(8)]

fig = plt.figure(figsize=(W / DPI, H / DPI), dpi=DPI)


def pts(series):
    t = np.array([p[0] for p in series])
    v = np.array([p[1] for p in series])
    return t, v


def make_panel(i):
    top = panel_tops[i]
    ax = fig.add_axes([panel_left / W, 1 - (top + panel_h) / H,
                       (panel_right - panel_left) / W, panel_h / H])
    ax.set_xlim(x_range)
    ax.set_xticks(week_days)
    ax.set_xticks([d + 3.5 for d in week_days], minor=True)
    yt = panel_yticks[i]
    step = yt[1] - yt[0]
    ax.set_yticks(yt)
    ax.set_yticklabels(panel_ylabels[i])
    ax.set_yticks([yt[0] - step / 2] + [y + step / 2 for y in yt], minor=True)
    ax.set_ylim(panel_ylim[i])
    ax.grid(which='major', color='#EBEBEB', lw=1.3)
    ax.grid(which='minor', color='#F2F2F2', lw=0.8)
    ax.set_axisbelow(True)
    for s in ax.spines.values():
        s.set_color(FRAME)
        s.set_linewidth(1.2)
    ax.tick_params(which='major', length=4.5, width=1.0, color=FRAME, labelsize=TICK_SIZE,
                   labelcolor=TICK_GREY, pad=2)
    ax.tick_params(which='minor', length=0)
    for lab in ax.get_yticklabels():
        lab.set_fontweight('bold')
    if i < 7:
        ax.tick_params(axis='x', which='both', length=0, labelbottom=False)
    else:
        ax.set_xticklabels(week_labels)
        for lab in ax.get_xticklabels():
            lab.set_fontweight('bold')

    # facet strip on the right, text clipped like ggplot does
    strip = Rectangle((panel_right / W, 1 - (top + panel_h) / H), strip_w / W, panel_h / H,
                      transform=fig.transFigure, facecolor='#D9D9D9', edgecolor=FRAME, lw=1.2)
    fig.add_artist(strip)
    txt = fig.text((panel_right + strip_w / 2) / W, 1 - (top + panel_h / 2) / H, panel_names[i],
                   rotation=270, ha='center', va='center', rotation_mode='anchor',
                   fontsize=13.1, color='#1A1A1A')
    txt.set_clip_path(strip)
    return ax


axes = [make_panel(i) for i in range(8)]

# 1 SurfaceStorage
ax = axes[0]
for m in surf_ens:
    ax.plot(*pts(m), color=GREY, lw=LW)
ax.plot(*pts(surf_main), color=RED, lw=LW)
ax.plot(*pts(surf_openloop), color=BLACK, lw=LW)

# 2 RootZoneStorage
ax = axes[1]
for row in root_ens:
    ax.plot(root_ens_t, row, color=GREY, lw=LW, drawstyle='steps-post')
ax.plot(*pts(root_main), color=RED, lw=LW, drawstyle='steps-post')
ax.plot(*pts(root_openloop), color=BLACK, lw=LW, drawstyle='steps-post')

# 3 first reservoir
ax = axes[2]
for row in res1_ens:
    ax.plot(res1_t, np.array(row) * 1e-3, color=GREY, lw=LW)
ax.plot(res1_t, np.array(res1_main) * 1e-3, color=RED, lw=LW)
ax.plot(res1_t, np.array(res1_openloop) * 1e-3, color=BLACK, lw=LW)

# 4 second reservoir
ax = axes[3]
for row in res2_ens:
    ax.plot(res2_t, np.array(row) * 1e-3, color=GREY, lw=LW)
ax.plot(res2_t, np.array(res2_main) * 1e-3, color=RED, lw=LW)
ax.plot(res2_t, np.array(res2_openloop) * 1e-3, color=BLACK, lw=LW)

# 5 flow first reservoir
ax = axes[4]
for m in flow_ens:
    ax.plot(*pts(m), color=GREY, lw=LW)
ax.plot(*pts(flow_main), color=RED, lw=LW)
ax.plot(*pts(flow_openloop), color=BLACK, lw=LW)

# 6 ground water depth
ax = axes[5]
for m in gw_ens:
    ax.plot(*pts(m), color=GREY, lw=LW, drawstyle='steps-post')
ax.plot(*pts(gw_main), color=RED, lw=LW, drawstyle='steps-post')
ax.plot(*pts(gw_openloop), color=BLACK, lw=LW, drawstyle='steps-post')

# 7 total runoff
ax = axes[6]
for row in runoff_ens:
    ax.plot(runoff_t, row, color=GREY, lw=LW)
ax.plot(runoff_t, runoff_main, color=RED, lw=LW)
ax.plot(*pts(runoff_obs), color=BLUE, lw=LW)
ax.plot(runoff_t, runoff_openloop, color=BLACK, lw=LW)

# 8 rainfall
ax = axes[7]
ax.vlines(rain_t, 0, rain_ens, color=GREY, lw=LW)
ax.vlines(rain_t, 0, rain_main, color=RED, lw=LW)
ax.vlines(rain_t, 0, rain_openloop, color=BLACK, lw=LW)
ax.plot(rain_span, [0, 0], color=BLACK, lw=LW)

# axis titles
fig.text(17 / W, 1 - 540 / H, 'values', rotation=90, ha='center', va='center',
         fontsize=16, fontweight='bold')
fig.text((panel_left + panel_right) / 2 / W, 1 - 1092 / H, 'time', ha='center', va='center',
         fontsize=16, fontweight='bold')

# legend
fig.text(1967 / W, 1 - 425 / H, 'Simulations', ha='left', va='center', fontsize=19,
         fontweight='bold')
for name, col, yc in zip(sim_names, sim_colors, [465, 518, 571, 625]):
    fig.add_artist(Line2D([1974 / W, 2008 / W], [1 - yc / H, 1 - yc / H], color=col, lw=1.8,
                          transform=fig.transFigure))
    fig.text(2015 / W, 1 - yc / H, name, ha='left', va='center', fontsize=TICK_SIZE,
             fontweight='bold')

fig.savefig('out.png', dpi=DPI)
